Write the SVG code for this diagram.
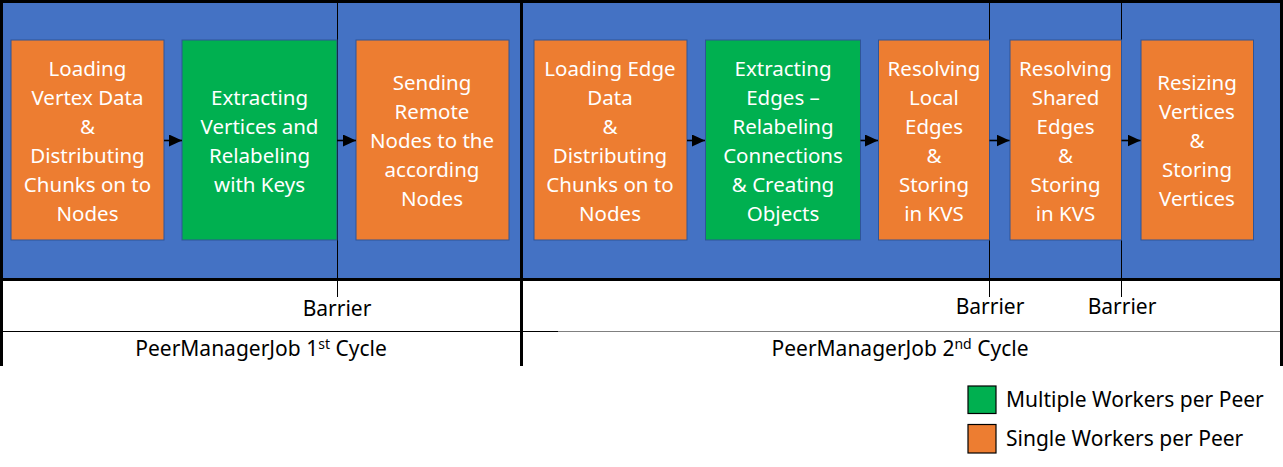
<svg xmlns="http://www.w3.org/2000/svg" width="1283" height="467" viewBox="0 0 1283 467">
<defs>
<marker id="ah" viewBox="0 0 10 10" refX="10" refY="5" markerWidth="13" markerHeight="12" markerUnits="userSpaceOnUse" orient="auto" preserveAspectRatio="none">
<path d="M0,0 L10,5 L0,10 z" fill="#000"/>
</marker>
<style>
.bg{fill:#4472C4}
.or{fill:#ED7D31;stroke:#2F5597;stroke-width:1}
.gr{fill:#00B050;stroke:#2F5597;stroke-width:1}
.bt{font-family:"Noto Sans","Open Sans",sans-serif;font-size:20.5px;fill:#fff;text-anchor:middle}
.lb{font-family:"Noto Sans","Open Sans",sans-serif;font-size:21px;fill:#000}
.ct{text-anchor:middle}
.arr{stroke:#000;stroke-width:1.6;fill:none;marker-end:url(#ah)}
.bar{stroke:#000;stroke-width:1;fill:none}
</style>
</defs>
<rect x="0" y="0" width="1283" height="467" fill="#fff"/>
<rect class="bg" x="2" y="2" width="1279" height="277"/>

<g id="frame">
<path d="M1.5,1.5 H1281.5" stroke="#000" stroke-width="3"/>
<path d="M1.5,0 V366" stroke="#000" stroke-width="3"/>
<path d="M1281.5,0 V366" stroke="#000" stroke-width="3"/>
<path d="M521.5,0 V366" stroke="#000" stroke-width="3"/>
<path d="M0,279.5 H1283" stroke="#000" stroke-width="3"/>
<path d="M2,331.5 H521" stroke="#000" stroke-width="1"/>
<path d="M523,331.5 H558" stroke="#000" stroke-width="1"/>
<path d="M558,331.5 H1280" stroke="#808080" stroke-width="1.2"/>
</g>

<g id="barriers">
<path class="bar" d="M337.5,2 V297"/>
<path class="bar" d="M989.5,2 V297"/>
<path class="bar" d="M1121.5,2 V297"/>
<text class="lb ct" x="337" y="316">Barrier</text>
<text class="lb ct" x="990" y="314">Barrier</text>
<text class="lb ct" x="1122" y="314">Barrier</text>
</g>

<g id="n1">
<rect class="or" x="11" y="40" width="153" height="200"/>
<text class="bt" x="87.5" y="76"><tspan x="87.5">Loading</tspan><tspan x="87.5" dy="29">Vertex Data</tspan><tspan x="87.5" dy="29">&amp;</tspan><tspan x="87.5" dy="29">Distributing</tspan><tspan x="87.5" dy="29">Chunks on to</tspan><tspan x="87.5" dy="29">Nodes</tspan></text>
</g>
<g id="n2">
<rect class="gr" x="182" y="40" width="155" height="200"/>
<text class="bt" x="259.5" y="105"><tspan x="259.5">Extracting</tspan><tspan x="259.5" dy="29">Vertices and</tspan><tspan x="259.5" dy="29">Relabeling</tspan><tspan x="259.5" dy="29">with Keys</tspan></text>
</g>
<g id="n3">
<rect class="or" x="356" y="40" width="153" height="200"/>
<text class="bt" x="432" y="90"><tspan x="432">Sending</tspan><tspan x="432" dy="29">Remote</tspan><tspan x="432" dy="29">Nodes to the</tspan><tspan x="432" dy="29">according</tspan><tspan x="432" dy="29">Nodes</tspan></text>
</g>
<g id="n4">
<rect class="or" x="534" y="40" width="153" height="200"/>
<text class="bt" x="610" y="76"><tspan x="610">Loading Edge</tspan><tspan x="610" dy="29">Data</tspan><tspan x="610" dy="29">&amp;</tspan><tspan x="610" dy="29">Distributing</tspan><tspan x="610" dy="29">Chunks on to</tspan><tspan x="610" dy="29">Nodes</tspan></text>
</g>
<g id="n5">
<rect class="gr" x="705.5" y="40" width="155" height="200"/>
<text class="bt" x="783" y="76"><tspan x="783">Extracting</tspan><tspan x="783" dy="29">Edges –</tspan><tspan x="783" dy="29">Relabeling</tspan><tspan x="783" dy="29">Connections</tspan><tspan x="783" dy="29">&amp; Creating</tspan><tspan x="783" dy="29">Objects</tspan></text>
</g>
<g id="n6">
<rect class="or" x="878.5" y="40" width="111" height="200"/>
<text class="bt" x="934" y="76"><tspan x="934">Resolving</tspan><tspan x="934" dy="29">Local</tspan><tspan x="934" dy="29">Edges</tspan><tspan x="934" dy="29">&amp;</tspan><tspan x="934" dy="29">Storing</tspan><tspan x="934" dy="29">in KVS</tspan></text>
</g>
<g id="n7">
<rect class="or" x="1010" y="40" width="111.5" height="200"/>
<text class="bt" x="1065.5" y="76"><tspan x="1065.5">Resolving</tspan><tspan x="1065.5" dy="29">Shared</tspan><tspan x="1065.5" dy="29">Edges</tspan><tspan x="1065.5" dy="29">&amp;</tspan><tspan x="1065.5" dy="29">Storing</tspan><tspan x="1065.5" dy="29">in KVS</tspan></text>
</g>
<g id="n8">
<rect class="or" x="1141" y="40" width="112.5" height="200"/>
<text class="bt" x="1197" y="90"><tspan x="1197">Resizing</tspan><tspan x="1197" dy="29">Vertices</tspan><tspan x="1197" dy="29">&amp;</tspan><tspan x="1197" dy="29">Storing</tspan><tspan x="1197" dy="29">Vertices</tspan></text>
</g>

<g id="connectors">
<path class="arr" d="M164,140.5 H182"/>
<path class="arr" d="M337,140.5 H356"/>
<path class="arr" d="M687,140.5 H705"/>
<path class="arr" d="M860.5,140.5 H878"/>
<path class="arr" d="M989.5,140.5 H1009.5"/>
<path class="arr" d="M1121.5,140.5 H1140.5"/>
</g>

<g id="cycles">
<text class="lb ct" x="261" y="356">PeerManagerJob 1<tspan font-size="14" dy="-7">st</tspan><tspan dy="7"> Cycle</tspan></text>
<text class="lb ct" x="900" y="356">PeerManagerJob 2<tspan font-size="14" dy="-7">nd</tspan><tspan dy="7"> Cycle</tspan></text>
</g>

<g id="legend">
<rect x="968" y="386" width="28" height="27.5" fill="#00B050" stroke="#000" stroke-width="1.2"/>
<rect x="968" y="424.5" width="28" height="28.5" fill="#ED7D31" stroke="#000" stroke-width="1.2"/>
<text class="lb" x="1006" y="407">Multiple Workers per Peer</text>
<text class="lb" x="1006" y="446">Single Workers per Peer</text>
</g>
</svg>
